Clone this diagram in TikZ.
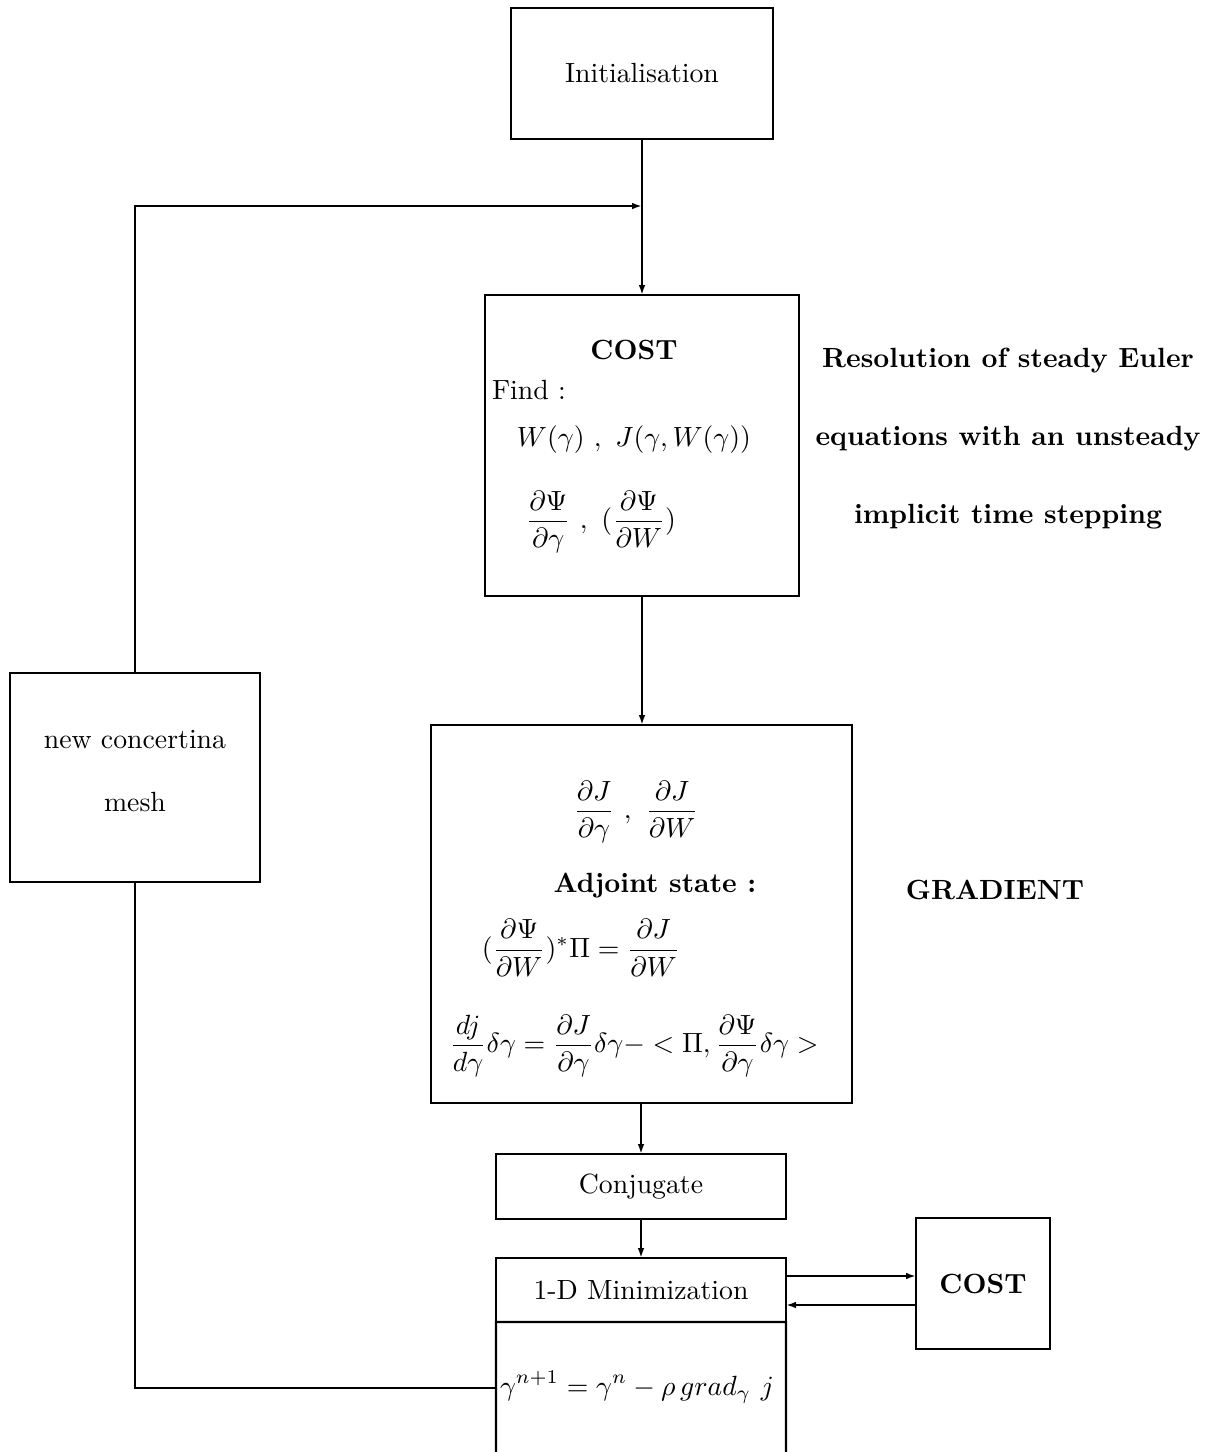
\documentclass[tikz,border=0pt]{standalone}
\usetikzlibrary{arrows.meta,calc}
\begin{document}
\begin{tikzpicture}[x=0.36pt,y=-0.36pt,
  box/.style={draw,line width=0.8pt,inner sep=0pt,outer sep=0pt},
  arr/.style={line width=0.7pt,-{Latex[length=3.6pt,width=2.4pt]}},
  ln/.style={line width=0.7pt},
  txt/.style={inner sep=0pt,outer sep=0pt}]
\useasboundingbox (0,0) rectangle (1221,1452);
% boxes
\node[box,minimum width=94.32pt,minimum height=47.16pt] (init) at (642,73.5) {Initialisation};
\node[box,minimum width=113.04pt,minimum height=108.36pt] (cost) at (642,445.5) {};
\node[box,minimum width=151.56pt,minimum height=136.08pt] (grad) at (641.5,914) {};
\node[box,minimum width=104.4pt,minimum height=23.4pt] (conj) at (641,1186.5) {Conjugate};
\node[box,minimum width=104.4pt,minimum height=23.04pt] (min) at (641,1290) {1-D Minimization};
\node[box,minimum width=48.24pt,minimum height=47.16pt] (cost2) at (983,1283.5) {\textbf{COST}};
\node[box,minimum width=90pt,minimum height=75.24pt] (mesh) at (135,777.5) {};
\node[txt,align=center] (meshtxt) at (135,771) {new concertina\\[11pt]mesh};
% open lower box
\coordinate (lbl) at (496,1452);
\coordinate (lbr) at (786,1452);
\draw[line width=0.8pt] (lbl) -- (min.south west) -- (min.south east) -- (lbr);
\coordinate (lb) at (496,1388);
% COST box contents
\node[txt] (costt) at (634,350) {\textbf{COST}};
\node[txt,anchor=west] (find) at (492,390) {Find :};
\node[txt] (wj) at (634,440) {$W(\gamma)\ ,\ J(\gamma,W(\gamma))$};
\node[txt] (dpsi) at (601,522) {$\displaystyle\frac{\partial\Psi}{\partial\gamma}\ ,\ (\frac{\partial\Psi}{\partial W})$};
% right text
\node[txt,align=center,font=\bfseries] (res) at (1008,438.5) {Resolution of steady Euler\\[16pt]equations with an unsteady\\[16pt]implicit time stepping};
% gradient box contents
\node[txt] (dj) at (636,812) {$\displaystyle\frac{\partial J}{\partial\gamma}\ ,\ \frac{\partial J}{\partial W}$};
\node[txt] (adj) at (655,886) {\textbf{Adjoint state :}};
\node[txt] (adjeq) at (581,948) {$\displaystyle(\frac{\partial\Psi}{\partial W})^*\Pi = \frac{\partial J}{\partial W}$};
\node[txt] (djeq) at (634,1046) {$\displaystyle\frac{dj}{d\gamma}\delta\gamma = \frac{\partial J}{\partial\gamma}\delta\gamma - < \Pi, \frac{\partial\Psi}{\partial\gamma}\delta\gamma >$};
\node[txt] (gradt) at (995,890) {\textbf{GRADIENT}};
% update equation
\node[txt,anchor=west,font=\fontsize{10.4}{12}\selectfont] (upd) at (500,1387) {$\displaystyle\gamma^{n+1} = \gamma^n - \rho\, grad_\gamma\ j$};
% connectors
\coordinate (j) at (642,206);
\draw[arr] (init.south) -- (cost.north);
\draw[arr] (mesh.north) |- (j);
\draw[arr] (cost.south) -- (cost.south |- grad.north);
\draw[arr] (grad.south -| conj.north) -- (conj.north);
\draw[arr] (conj.south) -- (min.north);
\draw[arr] ($(min.east)+(0,-14)$) coordinate (m1) -- (m1 -| cost2.west);
\draw[arr] ($(cost2.west)+(0,21.5)$) coordinate (m2) -- (m2 -| min.east);
\draw[ln] (lb) -| (mesh.south);
\end{tikzpicture}
\end{document}
